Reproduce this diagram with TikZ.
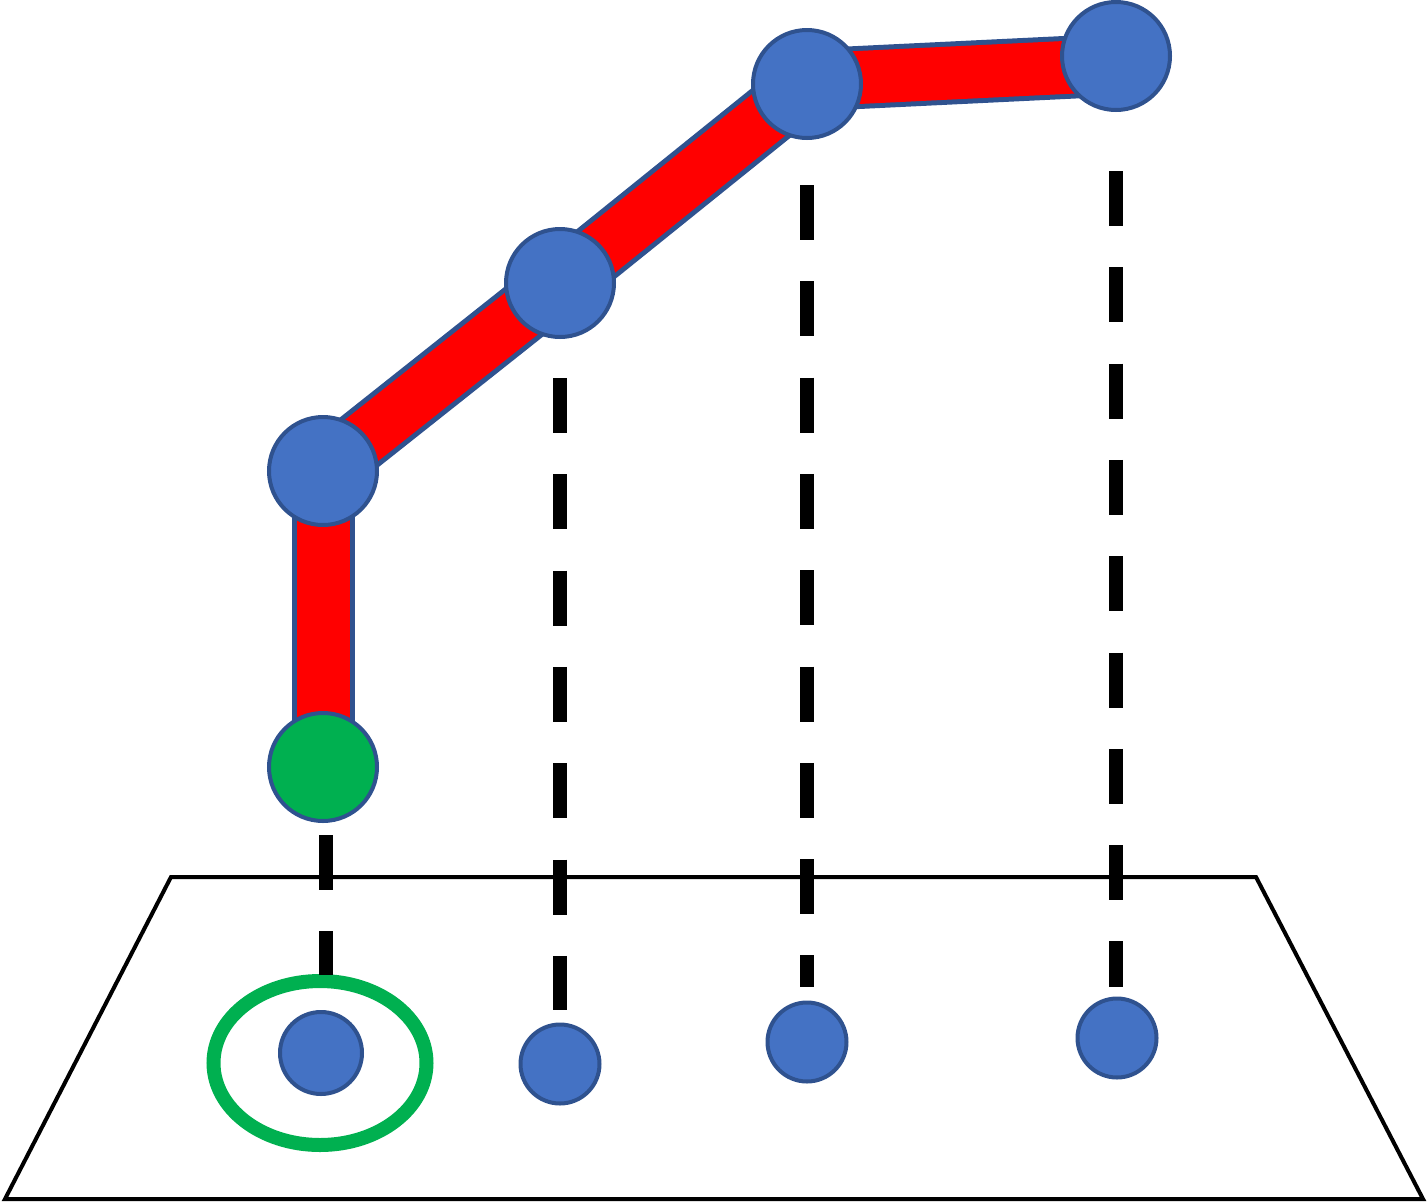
\documentclass[tikz,border=0pt]{standalone}
\usetikzlibrary{backgrounds,shapes.geometric}
\definecolor{jointblue}{HTML}{4472C4}
\definecolor{jointedge}{HTML}{2F528F}
\definecolor{basegreen}{HTML}{00B050}
\definecolor{linkred}{HTML}{FF0000}
\tikzset{
  bigjoint/.style={circle,draw=jointedge,fill=jointblue,line width=4pt,minimum size=108pt,inner sep=0pt},
  basejoint/.style={bigjoint,fill=basegreen},
  footjoint/.style={circle,draw=jointedge,fill=jointblue,line width=4pt,minimum size=79pt,inner sep=0pt},
  linkedge/.style={draw=jointedge,line width=63pt},
  linkcore/.style={draw=linkred,line width=53pt},
  plumb/.style={draw=black,line width=14pt,dash pattern=on 55pt off 41.3pt},
  ground/.style={draw=black,line width=4pt,line join=miter},
  target/.style={draw=basegreen,line width=14pt}
}
\begin{document}
\begin{tikzpicture}[x=1pt,y=-1pt]
\useasboundingbox (0,0) rectangle (1428,1203);
% ground plane
\draw[ground] (171,877) coordinate (g1) -- (1256,877) coordinate (g2) -- (1423,1199) coordinate (g3) -- (5,1199) coordinate (g4) -- cycle;
% arm joints
\node[basejoint] (j0) at (323,767) {};
\node[bigjoint] (j1) at (323,471) {};
\node[bigjoint] (j2) at (560,283) {};
\node[bigjoint] (j3) at (807,84) {};
\node[bigjoint] (j4) at (1116,56) {};
\coordinate (l3a) at (807,80);
\coordinate (l3b) at (1116,65);
\begin{scope}[on background layer]
  \path[linkedge] (j0.center) -- (j1.center);
  \path[linkcore] (j0.center) -- (j1.center);
  \path[linkedge] (j1.center) -- (j2.center);
  \path[linkcore] (j1.center) -- (j2.center);
  \path[linkedge] (j2.center) -- (j3.center);
  \path[linkcore] (j2.center) -- (j3.center);
  \path[linkedge] (l3a) -- (l3b);
  \path[linkcore] (l3a) -- (l3b);
\end{scope}
% projections on the plane
\node[footjoint,minimum size=82pt] (p0) at (321,1053) {};
\node[footjoint] (p1) at (560,1064) {};
\node[footjoint] (p2) at (807,1042) {};
\node[footjoint] (p3) at (1117,1038) {};
% target ellipse
\node[target,ellipse,minimum width=213pt,minimum height=164pt,inner sep=0pt] (t0) at (320,1063) {};
% plumb lines
\coordinate (d0a) at (326,835); \coordinate (d0b) at (326,975);
\coordinate (d1a) at (560,378); \coordinate (d1b) at (560,1010);
\coordinate (d2a) at (807,185); \coordinate (d2b) at (807,987);
\coordinate (d3a) at (1116,171); \coordinate (d3b) at (1116,987);
\path[plumb] (d0a) -- (d0b);
\path[plumb] (d1a) -- (d1b);
\path[plumb] (d2a) -- (d2b);
\path[plumb] (d3a) -- (d3b);
\end{tikzpicture}
\end{document}
